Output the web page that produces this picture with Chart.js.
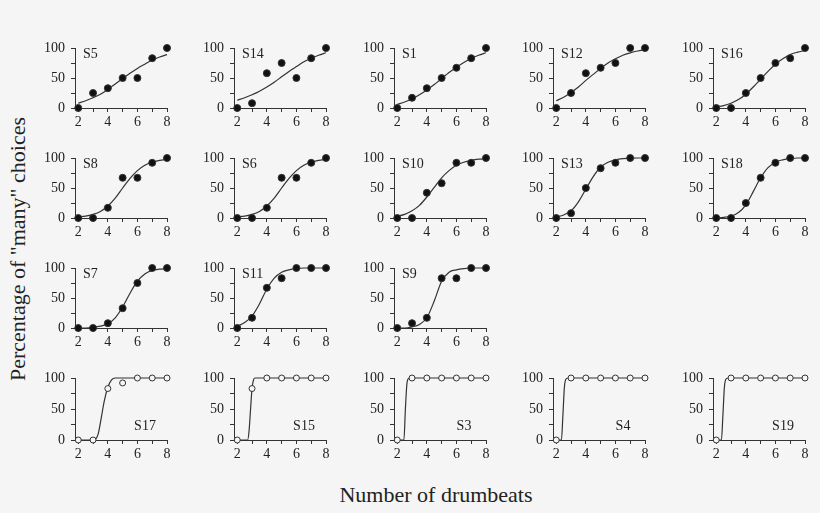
<!DOCTYPE html>
<html>
<head>
<meta charset="utf-8">
<script src="https://cdn.jsdelivr.net/npm/chart.js@4"></script>
<style>
  body { margin: 0; background: #f5f5f5; }
  #page { position: relative; width: 820px; height: 513px; background: #f5f5f5; overflow: hidden; }
  canvas { position: absolute; }
  .title { position: absolute; font-family: "Liberation Serif", serif; font-size: 22px; color: #222; white-space: nowrap; }
  #ytitle { left: 18px; top: 249px; transform: translate(-50%, -50%) rotate(-90deg); }
  #xtitle { left: 436px; top: 495px; transform: translate(-50%, -50%); }
</style>
</head>
<body>
<div id="page">
  <div id="ytitle" class="title">Percentage of "many" choices</div>
  <div id="xtitle" class="title">Number of drumbeats</div>
</div>
<script>
// x values of the observed points and of the fitted curves
const beats = [2, 3, 4, 5, 6, 7, 8];
const fitBeats = [2, 2.5, 3, 3.5, 4, 4.5, 5, 5.5, 6, 6.5, 7, 7.5, 8];
const yTicks = [0, 25, 50, 75, 100];

// row 1
const s5Pct  = [0, 25, 33, 50, 50, 83, 100];
const s5Fit  = [8, 12, 17, 23, 31, 40, 49, 58, 66, 73, 80, 85, 89];
const s14Pct = [0, 8, 58, 75, 50, 83, 100];
const s14Fit = [13, 17, 22, 28, 35, 43, 52, 61, 69, 77, 83, 88, 92];
const s1Pct  = [0, 17, 33, 50, 67, 83, 100];
const s1Fit  = [6, 10, 15, 22, 30, 39, 49, 59, 68, 76, 83, 88, 92];
const s12Pct = [0, 25, 58, 67, 75, 100, 100];
const s12Fit = [12, 18, 26, 35, 46, 56, 66, 75, 82, 88, 92, 95, 97];
const s16Pct = [0, 0, 25, 50, 75, 83, 100];
const s16Fit = [2, 4, 8, 14, 23, 35, 48, 61, 73, 82, 89, 93, 96];

// row 2
const s8Pct  = [0, 0, 17, 67, 67, 92, 100];
const s8Fit  = [2, 3, 6, 11, 20, 33, 50, 66, 79, 88, 93, 96, 98];
const s6Pct  = [0, 0, 17, 67, 67, 92, 100];
const s6Fit  = [2, 3, 6, 11, 20, 33, 50, 66, 79, 88, 93, 96, 98];
const s10Pct = [0, 0, 42, 58, 92, 92, 100];
const s10Fit = [3, 6, 12, 21, 35, 51, 67, 79, 88, 93, 96, 98, 99];
const s13Pct = [0, 8, 50, 83, 92, 100, 100];
const s13Fit = [2, 5, 12, 27, 48, 69, 85, 93, 97, 99, 99.5, 100, 100];
const s18Pct = [0, 0, 25, 67, 92, 100, 100];
const s18Fit = [0, 1, 3, 9, 22, 44, 67, 84, 93, 97, 99, 100, 100];

// row 3
const s7Pct  = [0, 0, 8, 33, 75, 100, 100];
const s7Fit  = [0, 0, 1, 3, 7, 17, 35, 58, 78, 90, 96, 98, 99];
const s11Pct = [0, 17, 67, 83, 100, 100, 100];
const s11Fit = [3, 9, 20, 40, 65, 83, 93, 97, 99, 100, 100, 100, 100];
const s9Pct  = [0, 8, 17, 83, 83, 100, 100];
const s9Fit  = [0, 0, 2, 6, 17, 45, 78, 93, 97, 99, 100, 100, 100];

// row 4 (open symbols, steep fits)
const s17Pct  = [0, 0, 83, 92, 100, 100, 100];
const s17FitX = [2, 3, 3.15, 3.35, 3.55, 3.75, 4, 4.25, 4.5, 5, 6, 7, 8];
const s17Fit  = [0, 0, 1, 10, 35, 62, 85, 97, 100, 100, 100, 100, 100];
const s15Pct  = [0, 83, 100, 100, 100, 100, 100];
const s15FitX = [2, 2.7, 2.8, 2.9, 3, 3.1, 3.2, 4, 5, 6, 7, 8];
const s15Fit  = [0, 0, 15, 50, 83, 97, 100, 100, 100, 100, 100, 100];
const s3Pct   = [0, 100, 100, 100, 100, 100, 100];
const s3FitX  = [2, 2.45, 2.55, 2.65, 2.75, 2.9, 3, 4, 5, 6, 7, 8];
const s3Fit   = [0, 0, 50, 90, 99, 100, 100, 100, 100, 100, 100, 100];
const s4Pct   = [0, 100, 100, 100, 100, 100, 100];
const s4FitX  = [2, 2.35, 2.45, 2.55, 2.65, 2.8, 3, 4, 5, 6, 7, 8];
const s4Fit   = [0, 0, 40, 85, 98, 100, 100, 100, 100, 100, 100, 100];
const s19Pct  = [0, 100, 100, 100, 100, 100, 100];
const s19FitX = [2, 2.35, 2.45, 2.55, 2.65, 2.8, 3, 4, 5, 6, 7, 8];
const s19Fit  = [0, 0, 40, 85, 98, 100, 100, 100, 100, 100, 100, 100];

const panels = [
    { name: 'S5',  pct: s5Pct,  fitX: fitBeats, fit: s5Fit,  row: 0, col: 0 },
    { name: 'S14', pct: s14Pct, fitX: fitBeats, fit: s14Fit, row: 0, col: 1 },
    { name: 'S1',  pct: s1Pct,  fitX: fitBeats, fit: s1Fit,  row: 0, col: 2 },
    { name: 'S12', pct: s12Pct, fitX: fitBeats, fit: s12Fit, row: 0, col: 3 },
    { name: 'S16', pct: s16Pct, fitX: fitBeats, fit: s16Fit, row: 0, col: 4 },
    { name: 'S8',  pct: s8Pct,  fitX: fitBeats, fit: s8Fit,  row: 1, col: 0 },
    { name: 'S6',  pct: s6Pct,  fitX: fitBeats, fit: s6Fit,  row: 1, col: 1 },
    { name: 'S10', pct: s10Pct, fitX: fitBeats, fit: s10Fit, row: 1, col: 2 },
    { name: 'S13', pct: s13Pct, fitX: fitBeats, fit: s13Fit, row: 1, col: 3 },
    { name: 'S18', pct: s18Pct, fitX: fitBeats, fit: s18Fit, row: 1, col: 4 },
    { name: 'S7',  pct: s7Pct,  fitX: fitBeats, fit: s7Fit,  row: 2, col: 0 },
    { name: 'S11', pct: s11Pct, fitX: fitBeats, fit: s11Fit, row: 2, col: 1 },
    { name: 'S9',  pct: s9Pct,  fitX: fitBeats, fit: s9Fit,  row: 2, col: 2 },
    { name: 'S17', pct: s17Pct, fitX: s17FitX, fit: s17Fit, row: 3, col: 0, open: true },
    { name: 'S15', pct: s15Pct, fitX: s15FitX, fit: s15Fit, row: 3, col: 1, open: true },
    { name: 'S3',  pct: s3Pct,  fitX: s3FitX,  fit: s3Fit,  row: 3, col: 2, open: true },
    { name: 'S4',  pct: s4Pct,  fitX: s4FitX,  fit: s4Fit,  row: 3, col: 3, open: true },
    { name: 'S19', pct: s19Pct, fitX: s19FitX, fit: s19Fit, row: 3, col: 4, open: true }
];

// grid geometry (pixel position of the axes corner of each panel)
const colAxis = [75, 234, 394, 553, 713];
const rowTop = [48, 158, 268, 378];
const rowHeight = [60, 60, 60, 62];
const plotW = 92;
const yAxisW = 46;
const xAxisH = 24;
const padTop = 15;   // y scale needs half a label + tick padding above the plot
const padRight = 8;

const ink = '#333';
const bg = '#f5f5f5';
const serif = 'Liberation Serif';

// draws the subject label inside the plot
const panelLabel = {
    id: 'panelLabel',
    afterDraw(chart, args, opts) {
        const { ctx, chartArea } = chart;
        ctx.save();
        ctx.fillStyle = '#222';
        ctx.font = '14px "' + serif + '"';
        ctx.textBaseline = 'middle';
        if (opts.bottom) {
            ctx.textAlign = 'center';
            ctx.fillText(opts.text, chartArea.left + 70, chartArea.bottom - 14);
        } else {
            ctx.textAlign = 'left';
            ctx.fillText(opts.text, chartArea.left + 8, chartArea.top + 6);
        }
        ctx.restore();
    }
};

const page = document.getElementById('page');

panels.forEach(p => {
    const h = rowHeight[p.row];
    const canvas = document.createElement('canvas');
    canvas.width = yAxisW + plotW + padRight;
    canvas.height = padTop + h + xAxisH;
    canvas.style.left = (colAxis[p.col] - yAxisW) + 'px';
    canvas.style.top = (rowTop[p.row] - padTop) + 'px';
    page.appendChild(canvas);

    new Chart(canvas, {
        type: 'scatter',
        data: {
            datasets: [
                {
                    data: beats.map((b, i) => ({ x: b, y: p.pct[i] })),
                    showLine: false,
                    pointRadius: p.open ? 3 : 3.5,
                    pointBorderWidth: 1,
                    pointBorderColor: ink,
                    pointBackgroundColor: p.open ? bg : '#111',
                    clip: false
                },
                {
                    data: p.fitX.map((x, i) => ({ x: x, y: p.fit[i] })),
                    showLine: true,
                    borderColor: ink,
                    borderWidth: 1.2,
                    pointRadius: 0,
                    cubicInterpolationMode: 'monotone',
                    clip: false
                }
            ]
        },
        options: {
            responsive: false,
            animation: false,
            devicePixelRatio: 1,
            layout: { padding: { top: padTop, right: padRight, left: 0, bottom: 0 } },
            plugins: {
                legend: { display: false },
                tooltip: { enabled: false },
                panelLabel: { text: p.name, bottom: !!p.open }
            },
            scales: {
                x: {
                    type: 'linear',
                    min: 1.78,
                    max: 8,
                    afterBuildTicks: s => { s.ticks = beats.map(v => ({ value: v })); },
                    afterFit: s => { s.height = xAxisH; },
                    ticks: {
                        callback: v => (v % 2 === 0 ? String(v) : ''),
                        font: { family: serif, size: 14 },
                        color: '#222',
                        padding: 2,
                        maxRotation: 0,
                        autoSkip: false
                    },
                    grid: { drawOnChartArea: false, drawTicks: true, tickLength: 4, color: ink },
                    border: { color: ink, width: 1 }
                },
                y: {
                    min: 0,
                    max: 100,
                    afterBuildTicks: s => { s.ticks = yTicks.map(v => ({ value: v })); },
                    afterFit: s => { s.width = yAxisW; },
                    ticks: {
                        callback: v => (v % 50 === 0 ? String(v) : ''),
                        font: { family: serif, size: 14 },
                        color: '#222',
                        padding: 6,
                        autoSkip: false
                    },
                    grid: { drawOnChartArea: false, drawTicks: true, tickLength: 4, color: ink },
                    border: { color: ink, width: 1 }
                }
            }
        },
        plugins: [panelLabel]
    });
});
</script>
</body>
</html>
